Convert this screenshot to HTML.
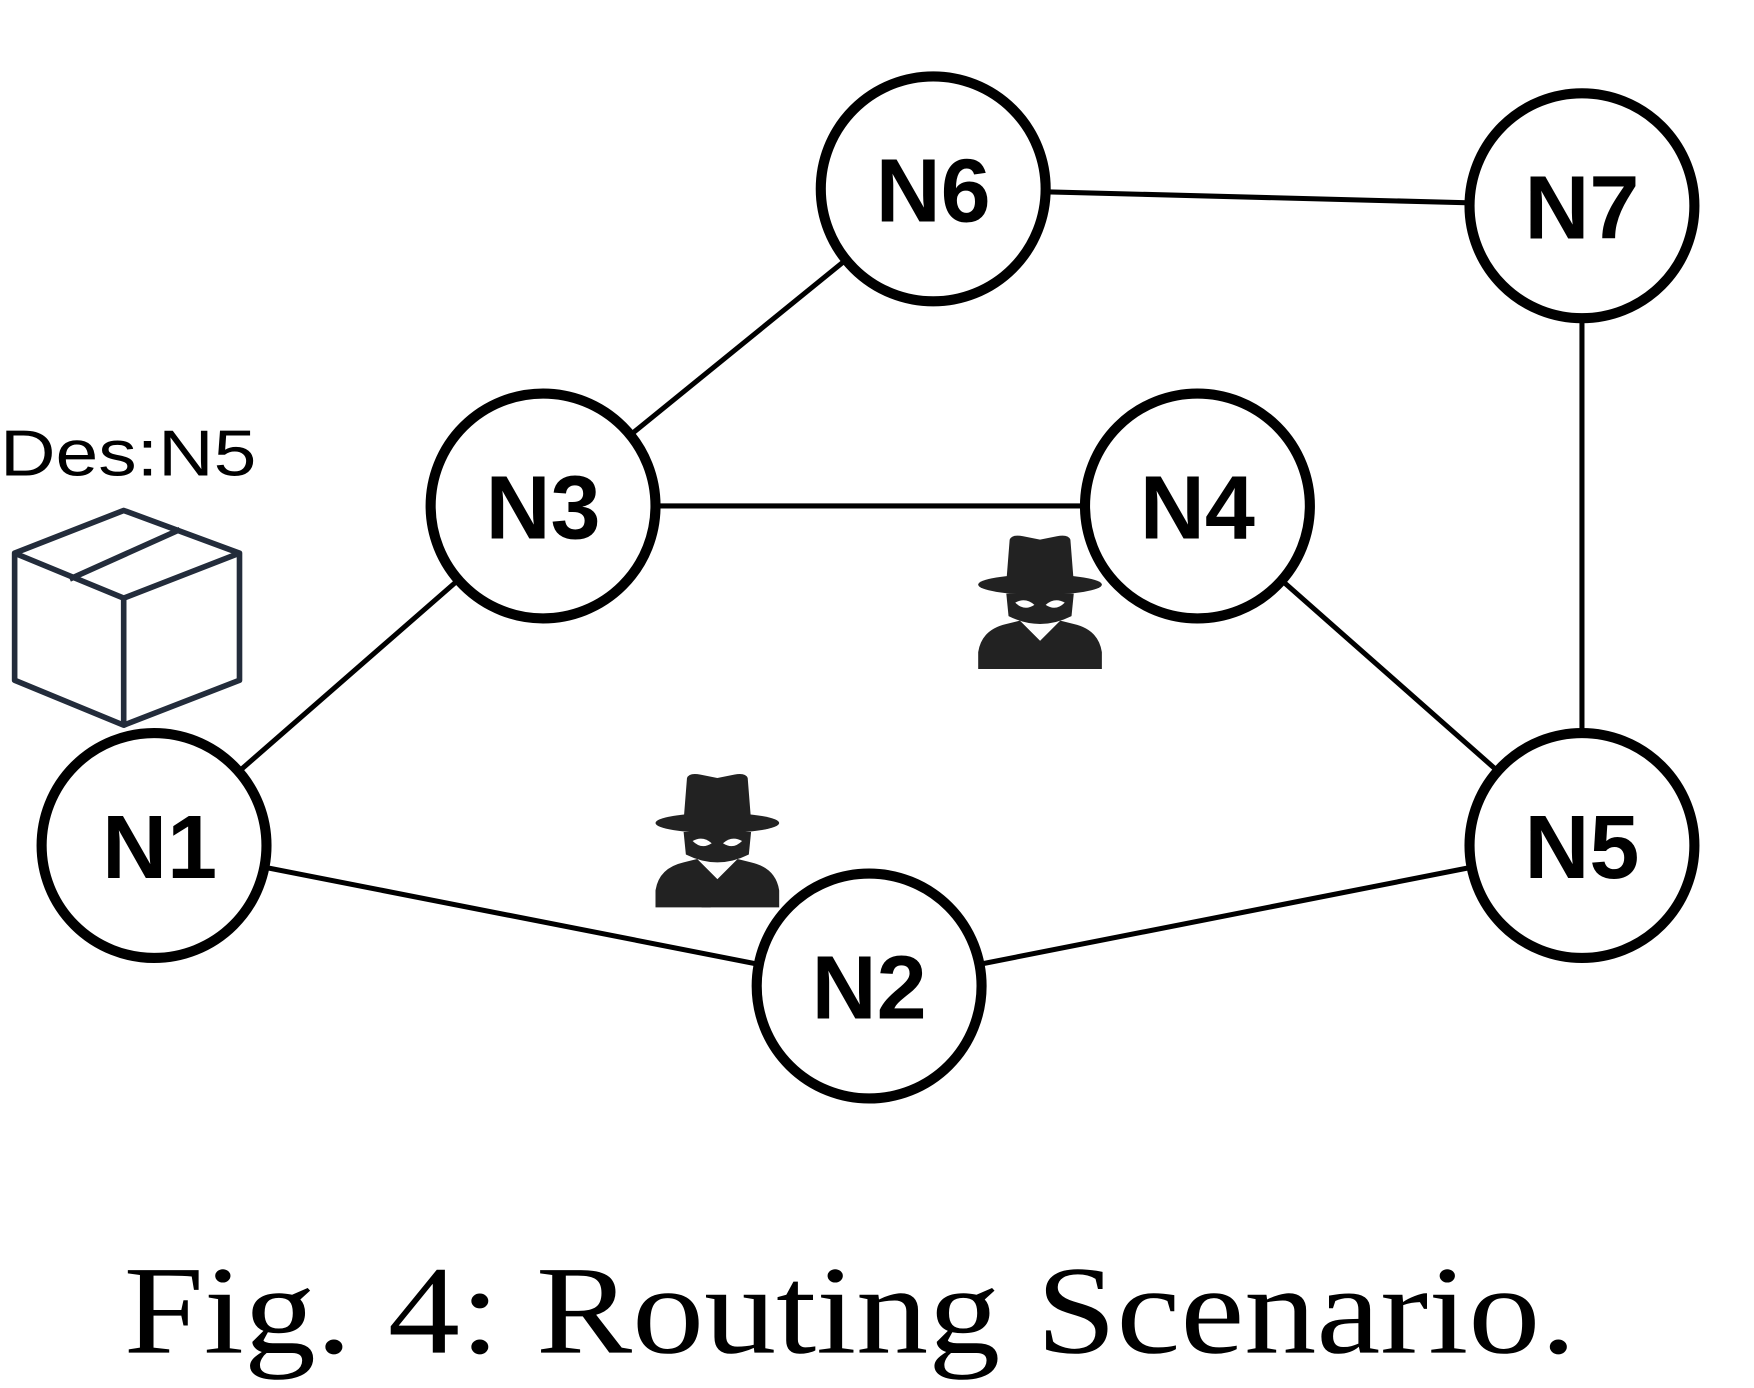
<!DOCTYPE html>
<html><head><meta charset="utf-8"><style>html,body{margin:0;padding:0;background:#fff}svg{display:block}</style></head>
<body>
<svg width="1754" height="1388" viewBox="0 0 1560 1234.5" xmlns="http://www.w3.org/2000/svg">
<defs>
<g id="spy">
 <path d="M-27,-60 Q-25,-65 -15,-63 L0,-60 L15,-63 Q25,-65 27,-60 L30,-22 L-30,-22 Z" fill="#222"/>
 <ellipse cx="0" cy="-20" rx="55" ry="9" fill="#222"/>
 <path d="M-30,-12 L30,-12 L28,8 Q0,22 -28,8 Z" fill="#222"/>
 <path d="M-22,-4 Q-13,-9 -5,-2 Q-14,4 -22,-4 Z" fill="#fff"/>
 <path d="M22,-4 Q13,-9 5,-2 Q14,4 22,-4 Z" fill="#fff"/>
 <path d="M-30,15 L-18,12 L0,30 L18,12 L30,15 Q52,20 55,40 L55,55 L-55,55 L-55,40 Q-52,20 -30,15 Z" fill="#222"/>
 <path d="M-18,12 L0,30 L-6,55 L-14,55 Z" fill="#222"/>
</g>
</defs>
<g stroke="#000" stroke-width="4.5">
 <line x1="830" y1="168" x2="1407" y2="183"/>
 <line x1="483" y1="450" x2="830" y2="168"/>
 <line x1="483" y1="450" x2="1065" y2="450"/>
 <line x1="137" y1="752" x2="483" y2="450"/>
 <line x1="137" y1="752" x2="773" y2="877"/>
 <line x1="773" y1="877" x2="1407" y2="752"/>
 <line x1="1065" y1="450" x2="1407" y2="752"/>
 <line x1="1407" y1="183" x2="1407" y2="752"/>
</g>
<g fill="#fff" stroke="#000" stroke-width="9">
 <circle cx="830" cy="168" r="100"/>
 <circle cx="1407" cy="183" r="100"/>
 <circle cx="483" cy="450" r="100"/>
 <circle cx="1065" cy="450" r="100"/>
 <circle cx="137" cy="752" r="100"/>
 <circle cx="773" cy="877" r="100"/>
 <circle cx="1407" cy="752" r="100"/>
</g>
<g font-family="Liberation Sans, sans-serif" font-weight="bold" font-size="80" text-anchor="middle">
 <text x="830" y="197">N6</text>
 <text x="1407" y="212">N7</text>
 <text x="483" y="479">N3</text>
 <text x="1065" y="479">N4</text>
 <text x="142" y="781">N1</text>
 <text x="773" y="906">N2</text>
 <text x="1407" y="781">N5</text>
</g>
<text x="0" y="423" font-family="Liberation Sans, sans-serif" font-size="58" textLength="228" lengthAdjust="spacingAndGlyphs">Des:N5</text>
<g fill="none" stroke="#232c3b" stroke-width="5" stroke-linejoin="round">
 <path d="M110,454 L13,492 L13,605 L110,645 L213,605 L213,492 Z"/>
 <path d="M13,492 L110,532 L213,492"/>
 <path d="M110,532 L110,645"/>
 <path d="M62,515 L160,471"/>
</g>
<use href="#spy" x="925" y="540"/>
<use href="#spy" x="638" y="752"/>
<text x="110" y="1203" font-family="Liberation Serif, serif" font-size="112" textLength="1292" lengthAdjust="spacingAndGlyphs">Fig. 4: Routing Scenario.</text>
</svg>
</body></html>
